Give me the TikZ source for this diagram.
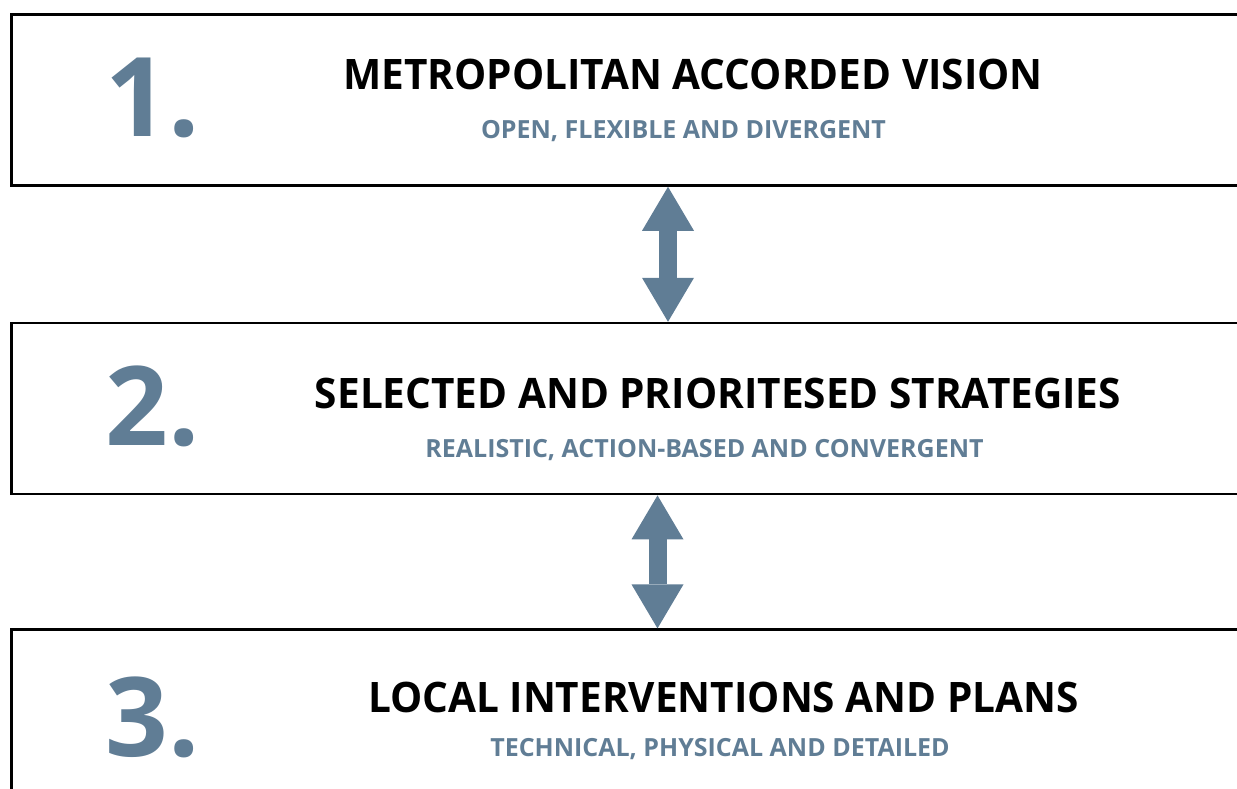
\documentclass[tikz,border=0pt]{standalone}
\usepackage{fontspec}
\setmainfont{Open Sans}
\newfontfamily\headfont[FakeStretch=0.965]{Open Sans}
\usetikzlibrary{arrows.meta,positioning}
\definecolor{slate}{HTML}{607D95}

\begin{document}
\begin{tikzpicture}[x=1pt, y=-1pt,
  panel/.style={draw, line width=2.6pt, minimum width=1248pt, minimum height=171pt, inner sep=0pt},
  num/.style={font=\bfseries\fontsize{110}{110}\selectfont, text=slate, anchor=base, inner sep=0pt},
  head/.style={font=\headfont\bfseries\fontsize{42}{42}\selectfont, anchor=base, inner sep=0pt},
  sub/.style={font=\bfseries\fontsize{25}{25}\selectfont, text=slate, anchor=base, inner sep=0pt},
  link/.style={slate, line width=18pt,
    {Triangle[width=52pt,length=44pt,line width=0pt]}-{Triangle[width=52pt,length=44pt,line width=0pt]}}]

\useasboundingbox (0,0) rectangle (1237,789);
\clip (0,0) rectangle (1237,789);

% the three levels
\node[panel] (vision) at (635.5,100) {};
\node[panel, below=135pt of vision] (strat) {};
\node[panel, below=133pt of strat] (local) {};

\node[num] (n1) at (153,137) {1.};
\node[head] (h1) at (693,90) {METROPOLITAN ACCORDED VISION};
\node[sub] (s1) at (683.5,139) {OPEN, FLEXIBLE AND DIVERGENT};

\node[num] (n2) at (153,445) {2.};
\node[head] (h2) at (718,408) {SELECTED AND PRIORITESED STRATEGIES};
\node[sub] (s2) at (704.5,457) {REALISTIC, ACTION-BASED AND CONVERGENT};

\node[num] (n3) at (153,756) {3.};
\node[head] (h3) at (723.5,712) {LOCAL INTERVENTIONS AND PLANS};
\node[sub] (s3) at (720,756) {TECHNICAL, PHYSICAL AND DETAILED};

% links between levels
\draw[link] ([xshift=32.5pt]vision.south) -- ([xshift=32.5pt]strat.north);
\draw[link] ([xshift=22pt]strat.south) -- ([xshift=22pt]local.north);
\end{tikzpicture}
\end{document}
